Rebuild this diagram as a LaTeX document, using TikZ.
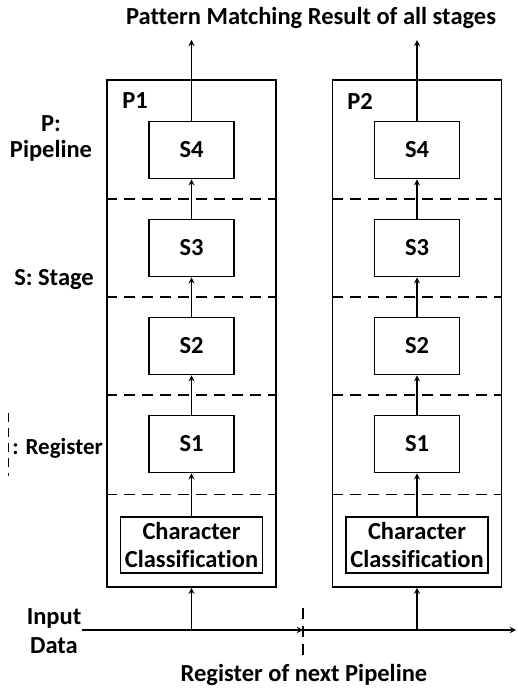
\documentclass[tikz,border=0pt]{standalone}
\usepackage{fontspec}
\setmainfont{Carlito}[Ligatures=NoCommon]
\usetikzlibrary{positioning}

\begin{document}
\begin{tikzpicture}[x=1pt,y=1pt,->,>=stealth,line width=1.7pt,node distance=98pt,
    font=\fontsize{24.5}{26}\selectfont\bfseries,
    stage/.style={rectangle,draw,minimum width=85pt,minimum height=57pt},
    pipe/.style={rectangle,draw,minimum width=169pt,minimum height=507pt},
    cls/.style={rectangle,draw,align=center,minimum width=142pt,minimum height=56pt,inner sep=2pt,font=\fontsize{24.5}{28}\selectfont\bfseries},
    reg/.style={-,dash pattern=on 11pt off 7pt}]

        \useasboundingbox (0,0) rectangle (517,690);

        \node[pipe] (p1) at (191.5,356.5) {};
        \node[pipe] (p2) [right of = p1, node distance=225.5pt] {};
        \node (p1lab) at (135,589) {P1};
        \node (p2lab) at (360,589) {P2};

        \node[stage] (p1s4) at (191.5,540) {S4};
        \node[stage] (p1s3) [below of = p1s4] {S3};
        \node[stage] (p1s2) [below of = p1s3] {S2};
        \node[stage] (p1s1) [below of = p1s2] {S1};
        \node[cls] (p1cc) [below of = p1s1, node distance=101pt] {Character\\Classification};

        \node[stage] (p2s4) [right of = p1s4, node distance=225.5pt] {S4};
        \node[stage] (p2s3) [below of = p2s4] {S3};
        \node[stage] (p2s2) [below of = p2s3] {S2};
        \node[stage] (p2s1) [below of = p2s2] {S1};
        \node[cls] (p2cc) [below of = p2s1, node distance=101pt] {Character\\Classification};

        \node (title) at (311,672) {Pattern Matching Result of all stages};
        \coordinate (top) at (0,650);

        \draw (p1cc) to (p1s1);
        \draw (p1s1) to (p1s2);
        \draw (p1s2) to (p1s3);
        \draw (p1s3) to (p1s4);
        \draw (p1s4) to (p1s4 |- top);

        \draw (p2cc) to (p2s1);
        \draw (p2s1) to (p2s2);
        \draw (p2s2) to (p2s3);
        \draw (p2s3) to (p2s4);
        \draw (p2s4) to (p2s4 |- top);

        \foreach \y in {491,393,295,195.5} {
            \draw[reg] (p1.west |- 0,\y) -- (p1.east |- 0,\y);
            \draw[reg] (p2.west |- 0,\y) -- (p2.east |- 0,\y);
        }

        % input data and the register to the next pipeline
        \coordinate (in) at (82,60);
        \coordinate (nx) at (303,60);
        \coordinate (out) at (516,60);
        \draw (in) to (nx);
        \draw (nx) to (out);
        \draw[reg] (303,82) -- (303,32);
        \draw (p1.south |- in) to (p1.south);
        \draw (p2.south |- in) to (p2.south);

        \node[align=center,font=\fontsize{24.5}{29}\selectfont\bfseries] (input) at (54,59) {Input\\Data};
        \node (next) at (304,15) {Register of next Pipeline};

        % legend
        \node[align=center] (plab) at (51,551.5) {P:\\Pipeline};
        \node (slab) at (54,410) {S: Stage};
        \node[anchor=west,inner sep=0pt,font=\fontsize{23}{26}\selectfont\bfseries] (rlab) at (11.5,242) {: Register};
        \draw[reg,dash pattern=on 9pt off 6pt] (8.5,277) -- (8.5,214);

        ;
\end{tikzpicture}
\end{document}
